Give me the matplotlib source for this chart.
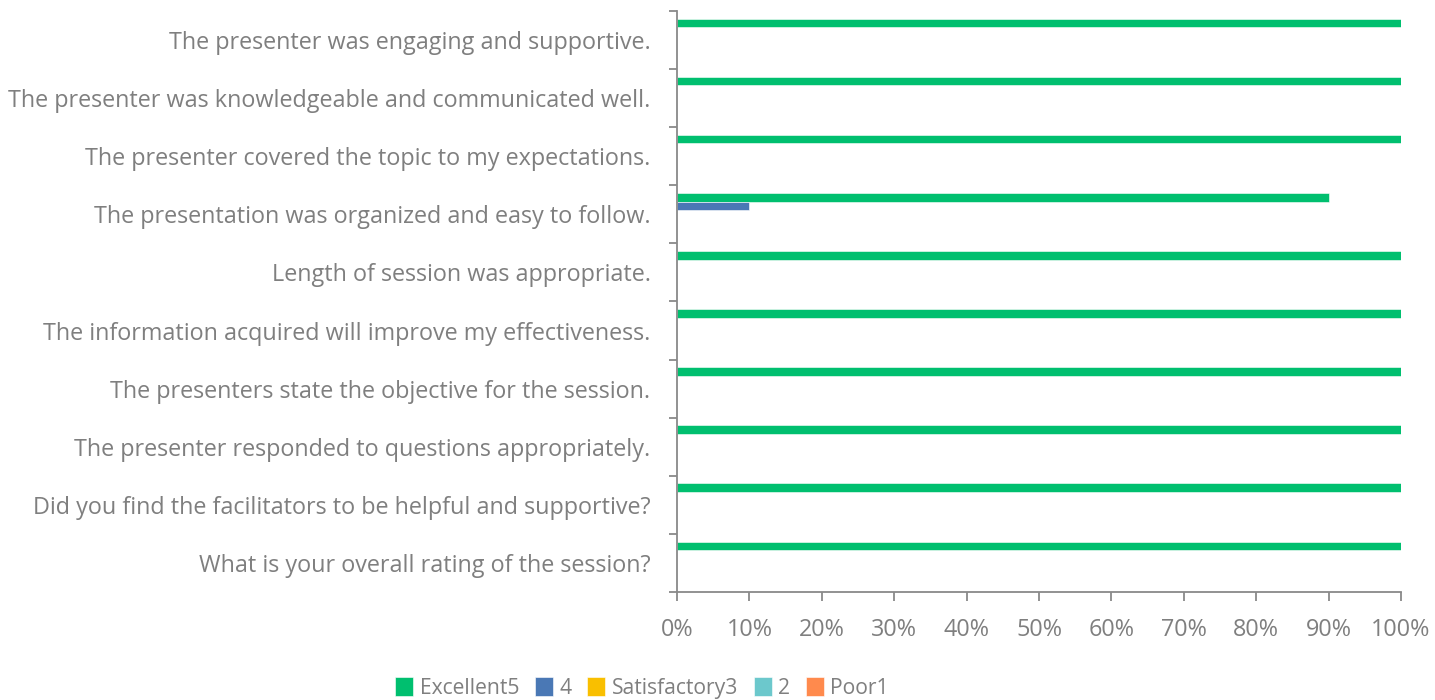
import matplotlib
matplotlib.use("Agg")
import matplotlib.pyplot as plt
import numpy as np
from matplotlib.ticker import FixedLocator, PercentFormatter

categories = [
    "The presenter was engaging and supportive.",
    "The presenter was knowledgeable and communicated well.",
    "The presenter covered the topic to my expectations.",
    "The presentation was organized and easy to follow.",
    "Length of session was appropriate.",
    "The information acquired will improve my effectiveness.",
    "The presenters state the objective for the session.",
    "The presenter responded to questions appropriately.",
    "Did you find the facilitators to be helpful and supportive?",
    "What is your overall rating of the session?",
]
series_names = ["Excellent5", "4", "Satisfactory3", "2", "Poor1"]
excellent5 = [100, 100, 100, 90, 100, 100, 100, 100, 100, 100]
four = [0, 0, 0, 10, 0, 0, 0, 0, 0, 0]
satisfactory3 = [0, 0, 0, 0, 0, 0, 0, 0, 0, 0]
two = [0, 0, 0, 0, 0, 0, 0, 0, 0, 0]
poor1 = [0, 0, 0, 0, 0, 0, 0, 0, 0, 0]
colors = ["#00BF6F", "#4A78B5", "#F9BF00", "#6CC8CC", "#FF8A4D"]

FONT = "Open Sans"
TXT = "#7F7F7F"
AX = "#898989"

fig = plt.figure(figsize=(14.35, 7.0), dpi=100)
ax = fig.add_axes([677/1435, 1-592/700, (1401-677)/1435, (592-11)/700])

values = [excellent5, four, satisfactory3, two, poor1]
n = len(categories)
y = np.arange(n)
w = 0.147
for j, (name, vals, c) in enumerate(zip(series_names, values, colors)):
    ax.barh(y + (j - 2) * w, vals, height=w, color=c, label=name,
            edgecolor="white", linewidth=0.4)

ax.set_ylim(n - 0.5, -0.5)
ax.set_xlim(0, 100)
ax.set_yticks(y)
ax.set_yticklabels(categories, fontsize=16.8, color=TXT, family=FONT)
ax.yaxis.set_minor_locator(FixedLocator(np.arange(-0.5, n, 1.0)))
ax.tick_params(axis="y", which="major", length=0, pad=19)
ax.tick_params(axis="y", which="minor", length=6, width=1.3, color=AX)

ax.set_xticks(np.arange(0, 101, 10))
ax.xaxis.set_major_formatter(PercentFormatter(decimals=0))
ax.tick_params(axis="x", which="major", length=6.5, width=1.3, color=AX,
               labelsize=16.8, labelcolor=TXT, pad=12)
for lab in ax.get_xticklabels():
    lab.set_family(FONT)

for s in ["top", "right"]:
    ax.spines[s].set_visible(False)
for s in ["left", "bottom"]:
    ax.spines[s].set_color(AX)
    ax.spines[s].set_linewidth(1.3)

leg = fig.legend(loc="center", bbox_to_anchor=(642/1435, 1-688/700), ncol=5,
                 frameon=False, prop={"family": FONT, "size": 15.2},
                 handlelength=0.85, handleheight=1.0, handletextpad=0.3,
                 columnspacing=0.75)
for t in leg.get_texts():
    t.set_color(TXT)

fig.savefig("out.png", dpi=100)
